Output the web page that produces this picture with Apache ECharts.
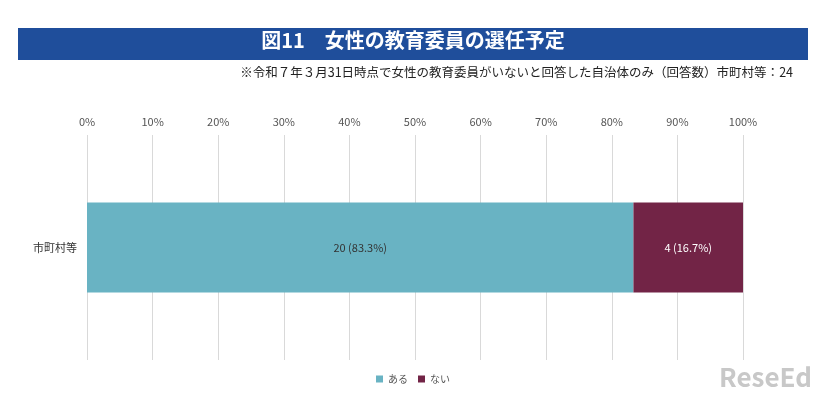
<!DOCTYPE html>
<html><head><meta charset="utf-8">
<script src="https://cdn.jsdelivr.net/npm/echarts@6/dist/echarts.min.js"></script>
<style>html,body{margin:0;padding:0;background:#fff}#c{width:826px;height:401px}</style>
</head><body><div id="c"></div>
<script>
var categories = ['市町村等'];
var seriesNames = ['ある', 'ない'];
var counts = [20, 4];
var percents = [83.3, 16.7];
var colors = ['#69b3c3', '#722446'];

var chart = echarts.init(document.getElementById('c'));
var font = '"Noto Sans CJK JP", sans-serif';
var option = {
  animation: false,
  textStyle: { fontFamily: font },
  graphic: [
    { type: 'rect', shape: { x: 18, y: 28, width: 790, height: 32 }, style: { fill: '#1f4e9b' } },
    { type: 'text', left: 'center', top: 30, style: { text: '図11　女性の教育委員の選任予定', fill: '#fff', font: 'bold 20px ' + font } },
    { type: 'text', right: 33, top: 66, style: { text: '※令和７年３月31日時点で女性の教育委員がいないと回答した自治体のみ（回答数）市町村等：24', fill: '#222', font: '12.5px ' + font } },
    { type: 'text', right: 14, top: 364, style: { text: 'ReseEd', fill: '#c8c8c8', font: 'bold 26px ' + font } }
  ],
  legend: {
    bottom: 12, left: 'center', itemWidth: 7, itemHeight: 7, icon: 'rect', itemGap: 10,
    textStyle: { fontSize: 10, color: '#555' }, data: seriesNames
  },
  grid: { left: 87, right: 83, top: 135, bottom: 41 },
  xAxis: {
    type: 'value', position: 'top', min: 0, max: 100, interval: 10,
    axisLabel: { formatter: '{value}%', color: '#555', fontSize: 11 },
    axisLine: { show: false }, axisTick: { show: false },
    splitLine: { lineStyle: { color: '#d9d9d9' } }
  },
  yAxis: {
    type: 'category', data: categories,
    axisLine: { show: false }, axisTick: { show: false },
    axisLabel: { color: '#333', fontSize: 11, margin: 10 }
  },
  series: seriesNames.map(function (n, i) {
    return {
      name: n, type: 'bar', stack: 'a', barWidth: 90,
      itemStyle: { color: colors[i] },
      label: { show: true, position: 'inside', fontSize: 11, color: i === 0 ? '#333' : '#fff',
        formatter: function () { return counts[i] + ' (' + percents[i].toFixed(1) + '%)'; } },
      data: [percents[i]]
    };
  })
};
chart.setOption(option);
</script></body></html>
